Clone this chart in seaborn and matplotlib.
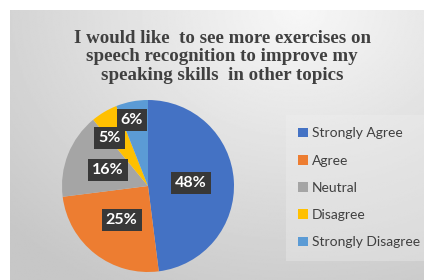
import numpy as np
import matplotlib
matplotlib.use("Agg")
import matplotlib.pyplot as plt
import seaborn as sns

# Survey answers
categories = ["Strongly Agree", "Agree", "Neutral", "Disagree", "Strongly Disagree"]
shares = [48, 25, 16, 5, 6]
colors = ["#4472C4", "#ED7D31", "#A5A5A5", "#FFC000", "#5B9BD5"]
title = "I would like  to see more exercises on\nspeech recognition to improve my\nspeaking skills  in other topics"

sns.set_theme(style="white")
plt.rcParams["font.family"] = ["Lato", "DejaVu Sans"]

W, H = 424, 280
fig = plt.figure(figsize=(W / 100, H / 100), dpi=100)
fig.patch.set_facecolor("white")

# grey gradient panel behind the chart
bg = fig.add_axes([10 / W, 0, (W - 10) / W, (H - 10) / H])
yy, xx = np.mgrid[0:1:200j, 0:1:300j]
dist = np.sqrt(((xx - 0.7) * 1.1) ** 2 + ((yy - 0.0) * 0.9) ** 2)
shade = np.clip(0.97 - 0.18 * dist, 0.78, 0.97)
bg.imshow(shade, cmap="gray", vmin=0, vmax=1, aspect="auto", extent=[0, 1, 1, 0])
bg.set_axis_off()

fig.text(222 / W, 1 - 57 / H, title, ha="center", va="center",
         family=["Liberation Serif"], fontweight="bold", fontsize=13.6,
         color="#404040", linespacing=1.15)

# pie
r = 86
cx, cy = 148, 186
ax = fig.add_axes([(cx - r) / W, 1 - (cy + r) / H, 2 * r / W, 2 * r / H])
wedges, texts, autotexts = ax.pie(
    shares, colors=colors, startangle=90, counterclock=False,
    autopct="%1.0f%%", pctdistance=0.5,
    wedgeprops=dict(linewidth=0),
    textprops=dict(color="white", fontweight="bold", fontsize=11.5),
)
# small slices: labels pushed outwards and spread apart (angle shift, radius)
nudge = {"Disagree": (8, 0.72), "Strongly Disagree": (3, 0.79)}
for name, w, t in zip(categories, wedges, autotexts):
    t.set_bbox(dict(boxstyle="square,pad=0.25", facecolor="#383838", edgecolor="none"))
    if name in nudge:
        da, rad = nudge[name]
        ang = np.deg2rad((w.theta1 + w.theta2) / 2 + da)
        t.set_position((rad * np.cos(ang), rad * np.sin(ang)))
ax.set_xlim(-1, 1)
ax.set_ylim(-1, 1)
ax.set_aspect("equal")

leg = fig.legend(wedges, categories, loc="upper left",
                 bbox_to_anchor=(283 / W, 1 - 112 / H),
                 frameon=True, fontsize=10, handlelength=0.7, handleheight=0.7,
                 handletextpad=0.3, labelspacing=1.1, borderpad=0.6,
                 labelcolor="#404040")
leg.get_frame().set_facecolor("#f0f0f0")
leg.get_frame().set_edgecolor("none")
leg.get_frame().set_alpha(0.35)
leg.get_frame().set_boxstyle("square")

fig.savefig("out.png", dpi=100)
